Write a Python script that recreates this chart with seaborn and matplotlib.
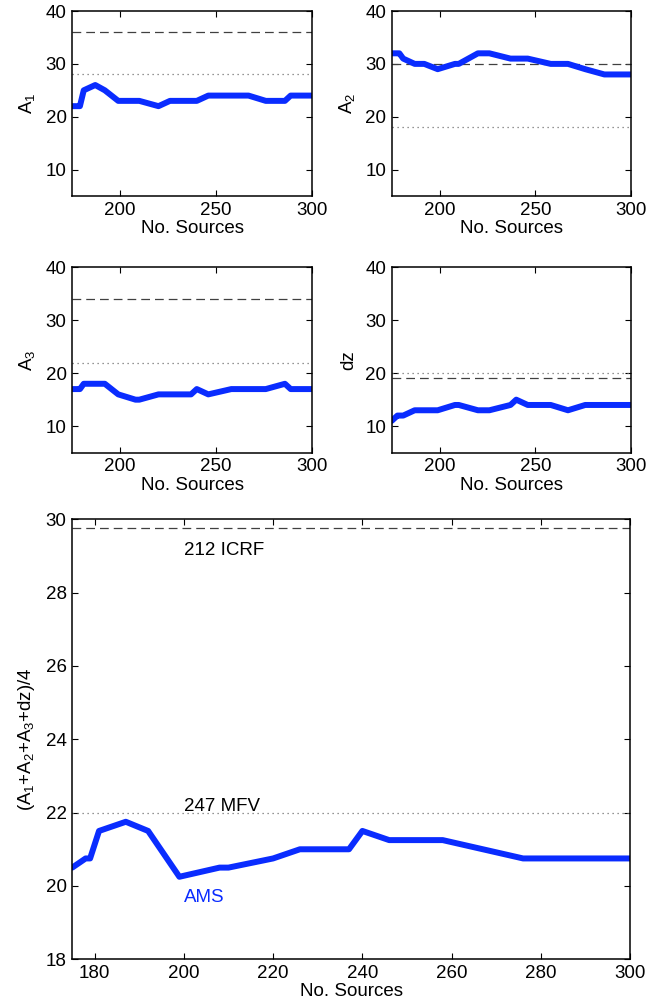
import matplotlib
matplotlib.use("Agg")
import matplotlib.pyplot as plt
import seaborn as sns

# number of sources in the subset (common x grid)
n_sources = [175, 178, 179, 181, 187, 192, 199, 208, 210, 220,
             226, 237, 240, 246, 258, 267, 276, 286, 289, 300]

# AMS values
a1 = [22, 22, 22, 25, 26, 25, 23, 23, 23, 22, 23, 23, 23, 24, 24, 24, 23, 23, 24, 24]
a2 = [32, 32, 32, 31, 30, 30, 29, 30, 30, 32, 32, 31, 31, 31, 30, 30, 29, 28, 28, 28]
a3 = [17, 17, 17, 18, 18, 18, 16, 15, 15, 16, 16, 16, 17, 16, 17, 17, 17, 18, 17, 17]
dz = [11, 12, 12, 12, 13, 13, 13, 14, 14, 13, 13, 14, 15, 14, 14, 13, 14, 14, 14, 14]
mean_all = [20.5, 20.75, 20.75, 21.5, 21.75, 21.5, 20.25, 20.5, 20.5, 20.75,
            21.0, 21.0, 21.5, 21.25, 21.25, 21.0, 20.75, 20.75, 20.75, 20.75]

# reference levels: ICRF (dashed) and MFV (dotted)
icrf_ref = [36, 30, 34, 19]
mfv_ref = [28, 18, 22, 20]
icrf_mean = 29.75
mfv_mean = 22.0

panel_labels = ['A$_1$', 'A$_2$', 'A$_3$', 'dz']
mean_label = '(A$_1$+A$_2$+A$_3$+dz)/4'

sns.set_theme(style='ticks')
plt.rcParams['font.family'] = ['Liberation Sans', 'DejaVu Sans']
plt.rcParams['mathtext.default'] = 'regular'
plt.rcParams['font.size'] = 13.5
plt.rcParams['text.color'] = 'black'
plt.rcParams['axes.labelcolor'] = 'black'

blue = '#0a2cff'
fs = 13.5


def style_ax(ax):
    for s in ax.spines.values():
        s.set_visible(True)
        s.set_linewidth(1.1)
        s.set_color('black')
    ax.tick_params(direction='in', top=True, right=True, length=4,
                   width=0.8, labelsize=fs, colors='black', pad=4)


fig = plt.figure(figsize=(6.69, 10.05), dpi=100)
small_pos = [[0.108, 0.805, 0.358, 0.184],
             [0.5855, 0.805, 0.358, 0.184],
             [0.108, 0.5496, 0.358, 0.1845],
             [0.5855, 0.5496, 0.358, 0.1845]]

for i, vals in enumerate([a1, a2, a3, dz]):
    ax = fig.add_axes(small_pos[i])
    ax.axhline(icrf_ref[i], color='0.25', lw=0.9, ls=(0, (7, 4)))
    ax.axhline(mfv_ref[i], color='0.45', lw=0.9, ls=(0, (1, 3)))
    sns.lineplot(x=n_sources, y=vals, ax=ax, color=blue, lw=4.3)
    ax.set_xlim(175, 300)
    ax.set_ylim(5, 40)
    ax.set_xticks([200, 250, 300])
    ax.set_yticks([10, 20, 30, 40])
    ax.set_xlabel('No. Sources', fontsize=fs, labelpad=1)
    ax.set_ylabel(panel_labels[i], fontsize=fs, labelpad=6)
    style_ax(ax)

ax = fig.add_axes([0.108, 0.0455, 0.834, 0.4378])
ax.axhline(icrf_mean, color='0.25', lw=0.9, ls=(0, (7, 4)))
ax.axhline(mfv_mean, color='0.45', lw=0.9, ls=(0, (1, 3)))
sns.lineplot(x=n_sources, y=mean_all, ax=ax, color=blue, lw=4.3)
ax.text(200, 29.15, '212 ICRF', fontsize=fs, va='center', ha='left', color='black')
ax.text(200, 22.16, '247 MFV', fontsize=fs, va='center', ha='left', color='black')
ax.text(200, 19.69, 'AMS', fontsize=fs, va='center', ha='left', color=blue)
ax.set_xlim(175, 300)
ax.set_ylim(18, 30)
ax.set_xticks(range(180, 301, 20))
ax.set_yticks(range(18, 31, 2))
ax.set_xlabel('No. Sources', fontsize=fs, labelpad=1)
ax.set_ylabel(mean_label, fontsize=fs, labelpad=6)
style_ax(ax)

fig.savefig('out.png', dpi=100)
